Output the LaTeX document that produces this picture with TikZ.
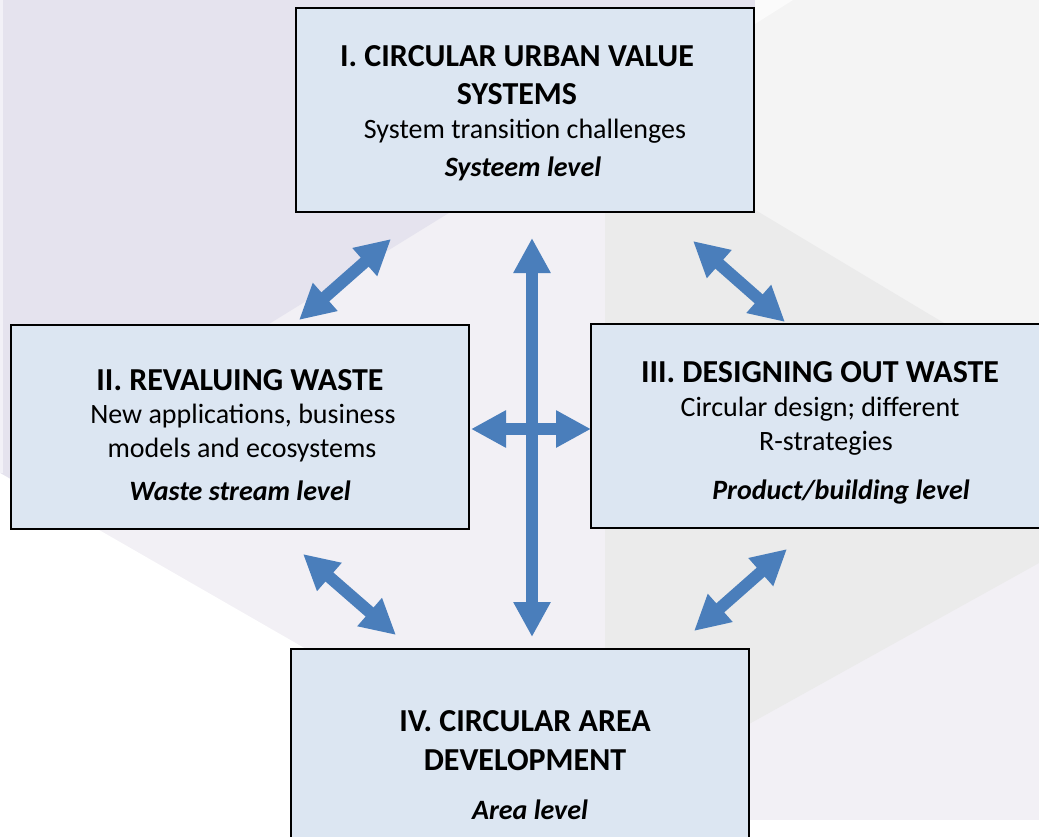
\documentclass[tikz,border=0pt]{standalone}
\usepackage{fontspec}
\setmainfont{Carlito}
\usetikzlibrary{arrows.meta}

\definecolor{boxfill}{HTML}{DCE6F2}
\definecolor{arrowblue}{HTML}{4A7EBB}
\definecolor{bgpurple}{HTML}{E5E3EE}
\definecolor{bglavender}{HTML}{F2F0F5}
\definecolor{bggrey}{HTML}{EBEBEB}
\definecolor{bglight}{HTML}{F4F4F4}

\tikzset{
  panel/.style={draw=black, line width=2pt, fill=boxfill, minimum width=458pt, minimum height=204pt, inner sep=0pt},
  link/.style={draw=arrowblue, line width=12pt, {Triangle[length=35pt,width=35pt]}-{Triangle[length=35pt,width=35pt]}},
  ttl/.style={font=\fontsize{32}{38}\selectfont\bfseries, anchor=base, inner sep=0pt},
  txt/.style={font=\fontsize{28}{34}\selectfont, anchor=base, inner sep=0pt},
  lvl/.style={font=\fontsize{28}{34}\selectfont\bfseries\itshape, anchor=base, inner sep=0pt},
}

\begin{document}
\begin{tikzpicture}[x=1pt,y=-1pt]
\useasboundingbox (0,0) rectangle (1039,836);
\clip (0,0) rectangle (1039,836);

% soft background planes
\fill[bglavender] (0,0) rectangle (1039,836);
\fill[bglight] (605,0) -- (1039,0) -- (1039,380) -- (605,120) -- cycle;
\fill[bggrey] (605,120) -- (1039,380) -- (1039,563) -- (605,804) -- cycle;
\fill[bgpurple] (0,0) -- (755,0) -- (755,24) -- (0,490) -- cycle;
\fill[white!60!bglight] (755,0) -- (793,0) -- (755,24) -- cycle;
\fill[white] (0,473) -- (360,680) -- (360,836) -- (0,836) -- cycle;
\fill[white] (0,820) rectangle (1039,836);
\fill[white!50!bgpurple] (0,0) rectangle (3,473);

% the four panels
\node[panel] (sys)  at (525,110)   {};
\node[panel] (rev)  at (240,426.5) {};
\node[panel] (des)  at (820,426)   {};
\node[panel] (area) at (520,751)   {};

% panel texts
\node[ttl] (sysA) at (517,66)  {I. CIRCULAR URBAN VALUE};
\node[ttl] (sysB) at (517,104) {SYSTEMS};
\node[txt] (sysC) at (525,138) {System transition challenges};
\node[lvl] (sysD) at (523,176) {Systeem level};

\node[ttl] (revA) at (240,390) {II. REVALUING WASTE};
\node[txt] (revB) at (243,423) {New applications, business};
\node[txt] (revC) at (242,457) {models and ecosystems};
\node[lvl] (revD) at (240,500) {Waste stream level};

\node[ttl] (desA) at (820,382) {III. DESIGNING OUT WASTE};
\node[txt] (desB) at (820,416) {Circular design; different};
\node[txt] (desC) at (826,450) {R-strategies};
\node[lvl] (desD) at (841,499) {Product/building level};

\node[ttl] (areaA) at (525,731) {IV. CIRCULAR AREA};
\node[ttl] (areaB) at (525,770) {DEVELOPMENT};
\node[lvl] (areaC) at (530,819) {Area level};

% arrow end points
\coordinate (v1) at (532,238);  \coordinate (v2) at (532,637);
\coordinate (h1) at (471,429);  \coordinate (h2) at (591,429);
\coordinate (tl1) at (391,239); \coordinate (tl2) at (299,320);
\coordinate (tr1) at (693,241); \coordinate (tr2) at (785,322);
\coordinate (bl1) at (303,554); \coordinate (bl2) at (396,635);
\coordinate (br1) at (787,549); \coordinate (br2) at (694,631);

% double-headed block arrows
\draw[link] (h1) -- (h2);
\draw[link] (v1) -- (v2);
\draw[link] (tl1) -- (tl2);
\draw[link] (tr1) -- (tr2);
\draw[link] (bl1) -- (bl2);
\draw[link] (br1) -- (br2);
\end{tikzpicture}
\end{document}
